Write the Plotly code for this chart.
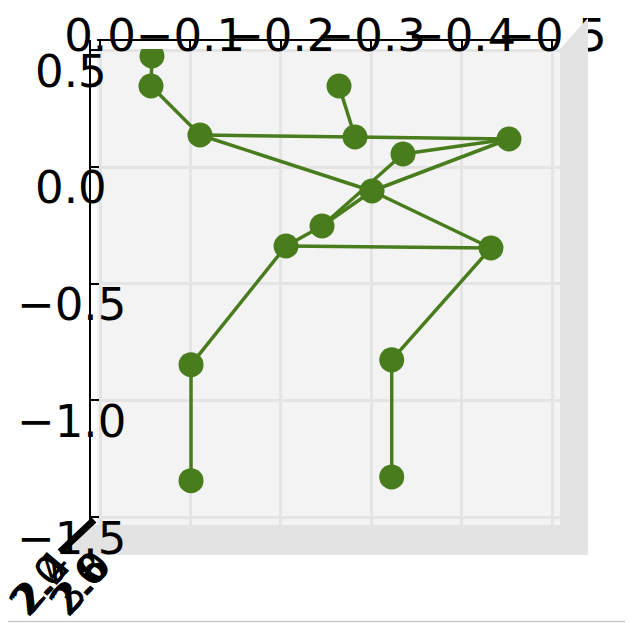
import plotly.graph_objects as go

# skeleton joints (front view, depth axis collapsed)
joint_x = [-0.0575, -0.0564, -0.1106, -0.2644, -0.2821, -0.4524, -0.3352, -0.3009,
           -0.2456, -0.2058, -0.4325, -0.1007, -0.3227, -0.1007, -0.3227]
joint_y = [0.4756, 0.3470, 0.1371, 0.3470, 0.1285, 0.1200, 0.0557, -0.1028,
           -0.2528, -0.3385, -0.3470, -0.8470, -0.8260, -1.3440, -1.3280]
bones = [(0, 1), (1, 2), (2, 4), (3, 4), (4, 5), (5, 6), (5, 7), (2, 7), (7, 10),
         (6, 8), (7, 8), (8, 9), (9, 10), (9, 11), (11, 13), (10, 12), (12, 14)]

x_ticks = [0.0, -0.1, -0.2, -0.3, -0.4, -0.5]
x_tick_text = ["0.0", "\u22120.1", "\u22120.2", "\u22120.3", "\u22120.4", "\u22120.5"]
y_ticks = [0.5, 0.0, -0.5, -1.0, -1.5]
y_tick_text = ["0.5", "0.0", "\u22120.5", "\u22121.0", "\u22121.5"]
z_tick_text = ["2.0", "2.2", "2.4", "2.6", "2.8", "3.0"]

green = "#487c1c"
font = "DejaVu Sans"
fs = 45

bx, by = [], []
for a, b in bones:
    bx += [joint_x[a], joint_x[b], None]
    by += [joint_y[a], joint_y[b], None]

fig = go.Figure()
fig.add_trace(go.Scatter(x=bx, y=by, mode="lines", line=dict(color=green, width=3.5),
                         showlegend=False, hoverinfo="skip"))
fig.add_trace(go.Scatter(x=joint_x, y=joint_y, mode="markers",
                         marker=dict(color=green, size=25, line=dict(width=0)),
                         showlegend=False))
# empty trace so the label axis gets drawn
fig.add_trace(go.Scatter(x=[], y=[], xaxis="x2", showlegend=False))

# pixel layout helpers; page body adds 8px, so screen positions are shifted back
OFF = 8
L, T, W, H = 52, 2, 533, 553
def px(v):
    return (v - OFF - L) / W
def py(v):
    return (T + H - (v - OFF)) / H

fig.update_layout(
    width=633, height=623,
    margin=dict(l=L, r=633 - L - W, t=T, b=623 - T - H, autoexpand=False),
    paper_bgcolor="white", plot_bgcolor="#f3f3f3",
    font=dict(family=font, size=fs, color="black"),
    xaxis=dict(domain=[px(97), px(560)], range=[0.00332, -0.50885],
               side="top", anchor="free", position=py(40), automargin=False,
               showline=True, linecolor="black", linewidth=2,
               ticks="inside", ticklen=8, tickwidth=2, tickcolor="black",
               tickvals=x_ticks, showticklabels=False,
               showgrid=True, gridcolor="#e4e4e4", gridwidth=3, zeroline=False),
    xaxis2=dict(overlaying="x", matches="x", side="top", anchor="free",
                position=py(60), tickvals=x_ticks, ticktext=x_tick_text,
                tickangle=0, automargin=False,
                showline=False, ticks="", showgrid=False, zeroline=False,
                tickfont=dict(family=font, size=fs, color="black")),
    yaxis=dict(domain=[py(525), py(49)], range=[-1.53385, 0.50557],
               anchor="free", position=px(90), automargin=False,
               showline=True, linecolor="black", linewidth=2,
               ticks="inside", ticklen=8, tickwidth=2, tickcolor="black",
               tickvals=y_ticks, showticklabels=False,
               showgrid=True, gridcolor="#e4e4e4", gridwidth=3, zeroline=False),
)

# y tick labels, centred like the 3d axis labels
for v, t in zip(y_ticks, y_tick_text):
    fig.add_annotation(x=px(71), xref="paper", y=v, yref="y", text=t, showarrow=False,
                       xanchor="center", yanchor="middle", yshift=-21,
                       font=dict(family=font, size=fs, color="black"))

# collapsed depth axis labels, all piled on top of each other
for i, t in enumerate(z_tick_text):
    cx = 38 if i < 3 else 78
    k = i % 3
    fig.add_annotation(x=px(cx + 2 * k), xref="paper", y=py(585 - 2 * k), yref="paper",
                       text=t, showarrow=False, textangle=-50,
                       xanchor="center", yanchor="middle",
                       font=dict(family=font, size=40, color="black"))

# side and floor panes of the 3d box
fig.add_shape(type="path", xref="paper", yref="paper", layer="above",
              path=f"M {px(560)} {py(49)} L {px(588)} {py(18)} L {px(588)} {py(555)} "
                   f"L {px(560)} {py(525)} Z",
              fillcolor="#e3e3e3", line=dict(width=0))
fig.add_shape(type="path", xref="paper", yref="paper", layer="above",
              path=f"M {px(92)} {py(525)} L {px(560)} {py(525)} L {px(588)} {py(555)} "
                   f"L {px(64)} {py(555)} Z",
              fillcolor="#e3e3e3", line=dict(width=0))
fig.add_shape(type="line", xref="paper", yref="paper", layer="above",
              x0=px(90), y0=py(40), x1=px(90), y1=py(50), line=dict(color="black", width=2))
fig.add_shape(type="line", xref="paper", yref="paper", layer="above",
              x0=px(60), y0=py(552), x1=px(94), y1=py(520), line=dict(color="black", width=7))
fig.add_shape(type="line", xref="paper", yref="paper",
              x0=px(0), y0=py(621.5), x1=px(633), y1=py(621.5), line=dict(color="#cccccc", width=1.5))

fig.write_html("out.html")
